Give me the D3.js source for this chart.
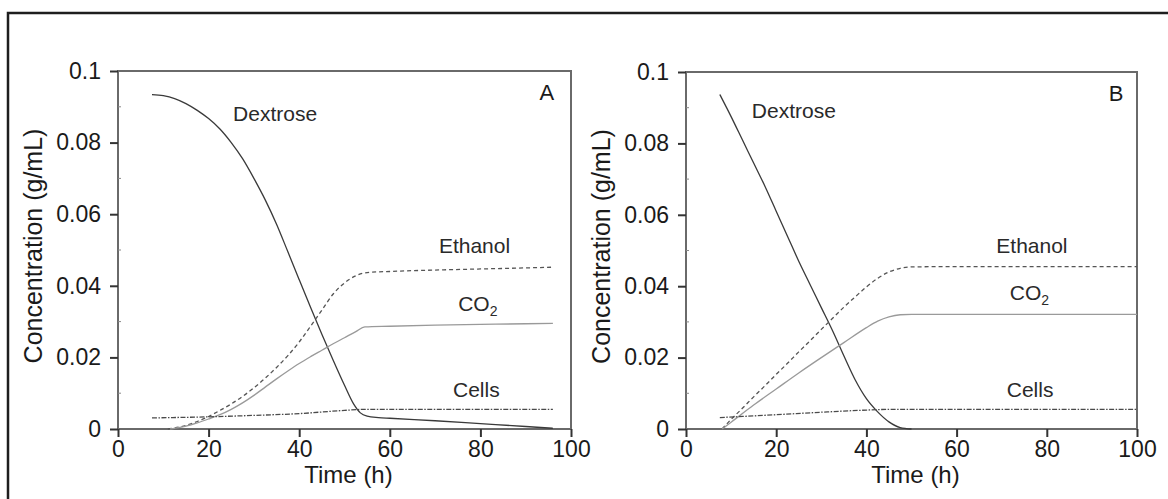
<!DOCTYPE html>
<html>
<head>
<meta charset="utf-8">
<script src="https://cdn.jsdelivr.net/npm/d3@7"></script>
<style>
  html, body { margin: 0; padding: 0; background: #fff; }
  svg { display: block; font-family: "Liberation Sans", Arial, sans-serif; }
</style>
</head>
<body>
<svg id="chart" width="1168" height="499"></svg>
<script>
// ---------------- data ----------------
const xTicks = [0, 20, 40, 60, 80, 100];
const yTicks = [0, 0.02, 0.04, 0.06, 0.08, 0.1];
const yTickLabels = ["0", "0.02", "0.04", "0.06", "0.08", "0.1"];
const yMinorTicks = [0.01, 0.03, 0.05, 0.07, 0.09];

// Panel A
const dextroseA = [[7.5,0.0934],[10,0.0931],[12.5,0.0923],[15,0.0909],[17.5,0.0890],[20,0.0867],[22.5,0.0838],[25,0.0800],[27.5,0.0755],[30,0.0700],[32.5,0.0640],[35,0.0572],[37.5,0.0495],[40,0.0417],[42.5,0.0340],[45,0.0265],[47.5,0.0192],[50,0.0122],[52,0.0070],[53.5,0.0045],[55,0.0036],[57.5,0.0032],[60,0.0030],[70,0.0023],[80,0.0015],[90,0.0007],[96,0.0002]];
const ethanolA = [[11,0],[12.5,0.0003],[15,0.0010],[17.5,0.0021],[20,0.0035],[22.5,0.0052],[25,0.0070],[27.5,0.0091],[30,0.0115],[32.5,0.0142],[35,0.0172],[37.5,0.0205],[40,0.0243],[42.5,0.0287],[45,0.0332],[47.5,0.0377],[50,0.0408],[52.5,0.0428],[55,0.0437],[60,0.0440],[70,0.0444],[80,0.0447],[90,0.0450],[96,0.0452]];
const co2A = [[11.5,0],[12.5,0.0002],[15,0.0008],[17.5,0.0017],[20,0.0028],[22.5,0.0040],[25,0.0055],[27.5,0.0073],[30,0.0094],[32.5,0.0117],[35,0.0140],[37.5,0.0162],[40,0.0183],[42.5,0.0202],[45,0.0220],[47.5,0.0238],[50,0.0255],[52.5,0.0272],[54.5,0.0285],[60,0.0287],[70,0.0290],[80,0.0292],[90,0.0294],[96,0.0295]];
const cellsA = [[7.5,0.0031],[20,0.0034],[30,0.0038],[40,0.0043],[50,0.0052],[55,0.0055],[96,0.0055]];

// Panel B
const dextroseB = [[7.5,0.0937],[10,0.0875],[12.5,0.0810],[15,0.0745],[17.5,0.0680],[20,0.0610],[22.5,0.0540],[25,0.0470],[27.5,0.0405],[30,0.0340],[32.5,0.0275],[35,0.0205],[37.5,0.0138],[40,0.0085],[42.5,0.0048],[45,0.0020],[47.5,0.0004],[50,0.0000]];
const ethanolB = [[8,0],[10,0.0027],[12.5,0.0058],[15,0.0090],[17.5,0.0121],[20,0.0153],[22.5,0.0184],[25,0.0216],[27.5,0.0247],[30,0.0279],[32.5,0.0310],[35,0.0341],[37.5,0.0370],[40,0.0398],[42.5,0.0422],[45,0.0440],[47.5,0.0450],[50,0.0454],[60,0.0455],[100,0.0455]];
const co2B = [[8,0],[10,0.0019],[15,0.0067],[20,0.0112],[25,0.0157],[30,0.0200],[35,0.0242],[40,0.0284],[42.5,0.0302],[45,0.0314],[47.5,0.0320],[50,0.0321],[100,0.0321]];
const cellsB = [[7.5,0.0032],[20,0.0040],[30,0.0047],[40,0.0053],[45,0.0055],[100,0.0055]];

// ---------------- drawing ----------------
const svg = d3.select("#chart");

// outer frame
svg.append("rect").attr("x", 8).attr("y", 13).attr("width", 1175).attr("height", 500)
  .attr("fill", "none").attr("stroke", "#1e1e1e").attr("stroke-width", 2.5);

const panels = [
  { left: 118, right: 571, top: 71, bottom: 429, letter: "A", titleX: 42,
    series: [dextroseA, ethanolA, co2A, cellsA],
    labels: { dex: [25.4, 0.0860], eth: [78.7, 0.0492], co2: [75.1, 0.0330], cells: [79.1, 0.0089], letter: [96.3, 0.0919] } },
  { left: 686, right: 1137, top: 72, bottom: 429, letter: "B", titleX: 610,
    series: [dextroseB, ethanolB, co2B, cellsB],
    labels: { dex: [14.6, 0.0872], eth: [76.7, 0.0494], co2: [71.8, 0.0360], cells: [76.3, 0.0089], letter: [97.0, 0.0919] } }
];

const styles = [
  { stroke: "#3a3a3a", width: 1.3, dash: null },          // Dextrose
  { stroke: "#555", width: 1.3, dash: "4,3" },            // Ethanol
  { stroke: "#9a9a9a", width: 1.3, dash: null },          // CO2
  { stroke: "#4a4a4a", width: 1.3, dash: "5,1.5,1.5,1.5" } // Cells
];

panels.forEach(p => {
  const x = d3.scaleLinear().domain([0, 100]).range([p.left, p.right]);
  const y = d3.scaleLinear().domain([0, 0.1]).range([p.bottom, p.top]);
  const g = svg.append("g");

  // frame
  g.append("rect").attr("x", p.left).attr("y", p.top)
    .attr("width", p.right - p.left).attr("height", p.bottom - p.top)
    .attr("fill", "none").attr("stroke", "#6a6a6a").attr("stroke-width", 2);

  // minor y ticks (inside)
  g.selectAll(".minor").data(yMinorTicks).enter().append("line")
    .attr("x1", p.left).attr("x2", p.left + 3)
    .attr("y1", d => y(d)).attr("y2", d => y(d))
    .attr("stroke", "#888").attr("stroke-width", 1);

  // axes
  const yAxis = d3.axisLeft(y).tickValues(yTicks)
    .tickFormat((d, i) => yTickLabels[i]).tickSize(8).tickPadding(9);
  const ya = g.append("g").attr("transform", `translate(${p.left},0)`).call(yAxis);
  const xAxis = d3.axisBottom(x).tickValues(xTicks).tickFormat(d3.format("d")).tickSize(8).tickPadding(4);
  const xa = g.append("g").attr("transform", `translate(0,${p.bottom})`).call(xAxis);
  [ya, xa].forEach(a => {
    a.select(".domain").remove();
    a.selectAll(".tick line").attr("stroke", "#333").attr("stroke-width", 2);
    a.selectAll(".tick text").attr("fill", "#1a1a1a").style("font-size", "23px")
      .style("font-family", "'Liberation Sans', Arial, sans-serif");
  });

  // axis titles
  g.append("text").attr("x", (p.left + p.right) / 2 + 4).attr("y", p.bottom + 54)
    .attr("text-anchor", "middle").attr("fill", "#1a1a1a").style("font-size", "24px")
    .text("Time (h)");
  g.append("text").attr("transform", `translate(${p.titleX},${(p.top + p.bottom) / 2 - 4}) rotate(-90)`)
    .attr("text-anchor", "middle").attr("fill", "#1a1a1a").style("font-size", "25px")
    .text("Concentration (g/mL)");

  // series
  const line = d3.line().x(d => x(d[0])).y(d => y(d[1])).curve(d3.curveMonotoneX);
  p.series.forEach((s, i) => {
    const st = styles[i];
    g.append("path").datum(s).attr("d", line).attr("fill", "none")
      .attr("stroke", st.stroke).attr("stroke-width", st.width)
      .attr("stroke-dasharray", st.dash);
  });

  // annotations
  const L = p.labels;
  const ann = (pos, txt, anchor) => g.append("text").attr("x", x(pos[0])).attr("y", y(pos[1]))
    .attr("text-anchor", anchor).attr("fill", "#2a2a2a").style("font-size", "21px").text(txt);
  ann(L.dex, "Dextrose", "start");
  ann(L.eth, "Ethanol", "middle");
  ann(L.cells, "Cells", "middle");
  const co = g.append("text").attr("x", x(L.co2[0])).attr("y", y(L.co2[1]))
    .attr("fill", "#2a2a2a").style("font-size", "21px");
  co.append("tspan").text("CO");
  co.append("tspan").attr("dy", 5).style("font-size", "14px").text("2");
  g.append("text").attr("x", x(L.letter[0])).attr("y", y(L.letter[1]))
    .attr("text-anchor", "end").attr("fill", "#1a1a1a").style("font-size", "22px").text(p.letter);
});
</script>
</body>
</html>
